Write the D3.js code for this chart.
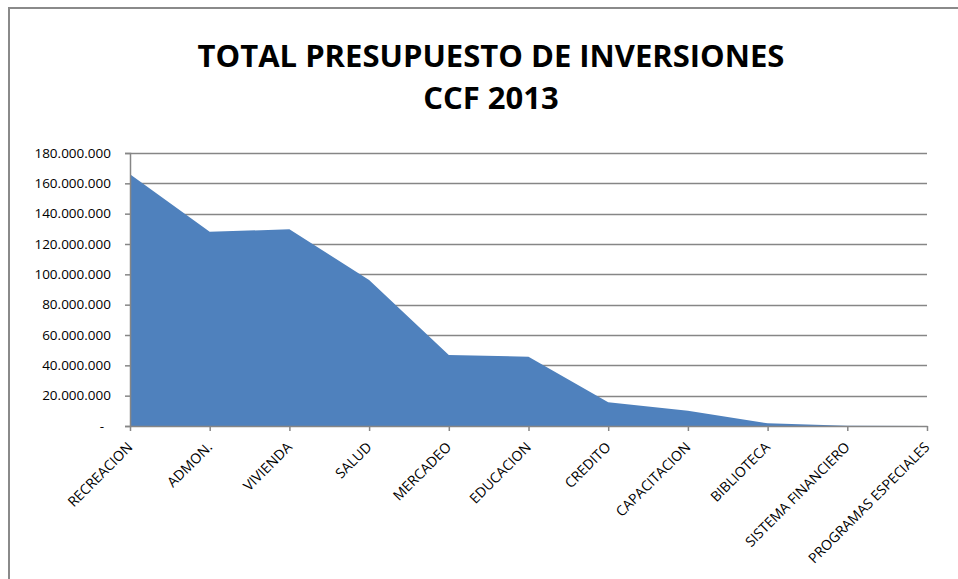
<!DOCTYPE html>
<html>
<head>
<meta charset="utf-8">
<script src="https://cdn.jsdelivr.net/npm/d3@7"></script>
<style>
  body { margin: 0; background: #fff; }
  svg { display: block; }
</style>
</head>
<body>
<script>
// data
const categories = [
  'RECREACION', 'ADMON.', 'VIVIENDA', 'SALUD', 'MERCADEO', 'EDUCACION',
  'CREDITO', 'CAPACITACION', 'BIBLIOTECA', 'SISTEMA FINANCIERO', 'PROGRAMAS ESPECIALES'
];
const values = [
  166000000, 128000000, 129700000, 96300000, 46800000, 45700000,
  15600000, 10100000, 1800000, 200000, 0
];
const yTicks = [0, 20000000, 40000000, 60000000, 80000000, 100000000,
  120000000, 140000000, 160000000, 180000000];
const titleLines = ['TOTAL PRESUPUESTO DE INVERSIONES', 'CCF 2013'];

const width = 958, height = 579;
const plot = { left: 130, right: 927, top: 153, bottom: 426 };

const svg = d3.select(document.body)
  .append('svg')
  .attr('width', width)
  .attr('height', height);

// chart frame (only top and left edges visible in the picture)
svg.append('rect')
  .attr('x', 9)
  .attr('y', 8)
  .attr('width', 1000)
  .attr('height', 700)
  .style('fill', 'none')
  .style('stroke', '#8a8a8a')
  .style('stroke-width', 2);

svg.selectAll('.title')
  .data(titleLines)
  .enter().append('text')
  .attr('class', 'title')
  .attr('x', 491)
  .attr('y', (d, i) => 67 + i * 42)
  .attr('text-anchor', 'middle')
  .style('font-family', '"Open Sans", sans-serif')
  .style('font-weight', 'bold')
  .style('font-size', '31px')
  .style('fill', '#000')
  .text(d => d);

const x = d3.scalePoint()
  .domain(categories)
  .range([plot.left, plot.right])
  .padding(0);

const y = d3.scaleLinear()
  .domain([0, 180000000])
  .range([plot.bottom, plot.top]);

const locale = d3.formatLocale({ decimal: ',', thousands: '.', grouping: [3], currency: ['$', ''] });
const fmt = locale.format(',.0f');

// gridlines
svg.append('g')
  .selectAll('line')
  .data(yTicks.filter(d => d > 0))
  .enter().append('line')
  .attr('x1', plot.left)
  .attr('x2', plot.right)
  .attr('y1', d => Math.round(y(d)) + 0.5)
  .attr('y2', d => Math.round(y(d)) + 0.5)
  .style('stroke', '#868686')
  .style('stroke-width', 1.5);

// area
const area = d3.area()
  .x((d, i) => x(categories[i]))
  .y0(y(0))
  .y1(d => y(d));

svg.append('path')
  .datum(values)
  .attr('d', area)
  .style('fill', '#4f81bd');

// y axis
const yAxis = svg.append('g')
  .attr('transform', `translate(${plot.left},0)`)
  .call(d3.axisLeft(y).tickValues(yTicks).tickSize(5).tickPadding(14)
    .tickFormat(d => d === 0 ? '-' : fmt(d)));

yAxis.select('.domain').style('stroke', '#868686').style('stroke-width', 1.5);
yAxis.selectAll('.tick line').style('stroke', '#868686').style('stroke-width', 1.5);
yAxis.selectAll('.tick text')
  .attr('dx', d => d === 0 ? -7 : 0)
  .style('font-family', '"Open Sans", sans-serif')
  .style('font-size', '13.5px')
  .style('fill', '#000');

// x axis
const xAxis = svg.append('g')
  .attr('transform', `translate(0,${plot.bottom})`)
  .call(d3.axisBottom(x).tickSize(5).tickSizeOuter(0));

xAxis.select('.domain').style('stroke', '#868686').style('stroke-width', 1.5);
xAxis.selectAll('.tick line').style('stroke', '#868686').style('stroke-width', 1.5);
xAxis.selectAll('.tick text')
  .attr('y', 0)
  .attr('dy', 0)
  .attr('transform', 'translate(3,22) rotate(-45)')
  .attr('text-anchor', 'end')
  .style('font-family', '"Open Sans", sans-serif')
  .style('font-size', '14px')
  .style('fill', '#000');
</script>
</body>
</html>
